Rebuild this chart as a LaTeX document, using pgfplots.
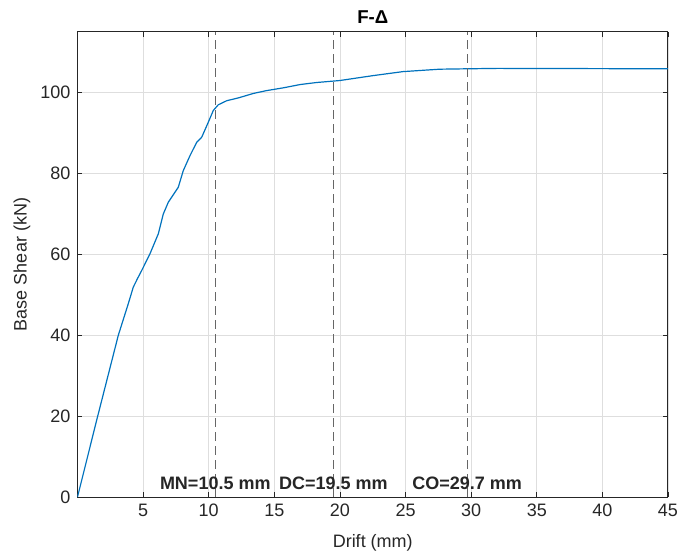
\documentclass[border=0pt]{standalone}
\usepackage{pgfplots}
\pgfplotsset{compat=1.18}
\usepackage{fontspec}
\setmainfont{Liberation Sans}
\definecolor{mblue}{rgb}{0,0.447,0.741}
\definecolor{axgray}{rgb}{0.15,0.15,0.15}
\begin{document}
\begin{tikzpicture}
\begin{axis}[
  name=ax,
  at={(0,0)}, anchor=south west,
  scale only axis, width=295.25pt, height=232.5pt,
  xmin=0, xmax=45, ymin=0, ymax=115,
  xtick={5,10,...,45}, ytick={0,20,...,100},
  tick align=inside, major tick length=2.5pt,
  tick style={axgray, line width=0.4pt},
  axis line style={axgray, line width=0.5pt},
  grid=major, grid style={line width=0.4pt, color=black!13},
  font=\fontsize{9pt}{11pt}\selectfont,
  ticklabel style={font=\fontsize{9pt}{11pt}\selectfont, text=axgray},
  /pgf/number format/assume math mode=true,
  xlabel={Drift (mm)}, ylabel={Base Shear (kN)},
  xlabel style={at={(axis description cs:0.5,-0.0990)}, anchor=center, text=axgray},
  ylabel style={at={(axis description cs:-0.094,0.5)}, anchor=center, text=axgray},
]
\addplot[mblue, line width=0.6pt] coordinates {
(0,0) (1.54,20) (3.11,40) (3.87,47.8) (4.25,51.9) (4.6,54.2) (4.89,56)
(5.53,60.2) (6.16,65.1) (6.54,70) (6.92,72.9) (7.68,76.6) (8.06,80.7)
(8.57,84.4) (9.08,87.7) (9.47,89) (9.97,92.7) (10.35,95.6) (10.73,97)
(11.37,98.0) (12.26,98.7) (13.4,99.8) (14.4,100.5) (15.7,101.2) (16.96,102) (18.2,102.5)
(20,103) (22.5,104.2) (24.8,105.2) (27.6,105.8) (29.7,105.9) (32,106) (45,105.9)
};
\addplot[black!60, line width=0.5pt, dash pattern=on 4.5pt off 2.5pt] coordinates {(10.5,0) (10.5,115)};
\addplot[black!60, line width=0.5pt, dash pattern=on 4.5pt off 2.5pt] coordinates {(19.5,0) (19.5,115)};
\addplot[black!60, line width=0.5pt, dash pattern=on 4.5pt off 2.5pt] coordinates {(29.7,0) (29.7,115)};
\node[font=\fontsize{9pt}{11pt}\selectfont\bfseries, text=axgray] at (axis cs:10.5,3.5) {MN=10.5 mm};
\node[font=\fontsize{9pt}{11pt}\selectfont\bfseries, text=axgray] at (axis cs:19.5,3.5) {DC=19.5 mm};
\node[font=\fontsize{9pt}{11pt}\selectfont\bfseries, text=axgray] at (axis cs:29.7,3.5) {CO=29.7 mm};
\end{axis}
\node[font=\fontsize{9.3pt}{11pt}\selectfont\bfseries, anchor=center, yshift=7.5pt] at (ax.north) {F-Δ};
\pgfresetboundingbox
\path[use as bounding box] (-38.75pt,-30pt) rectangle (301.25pt,248.5pt);
\end{tikzpicture}
\end{document}
